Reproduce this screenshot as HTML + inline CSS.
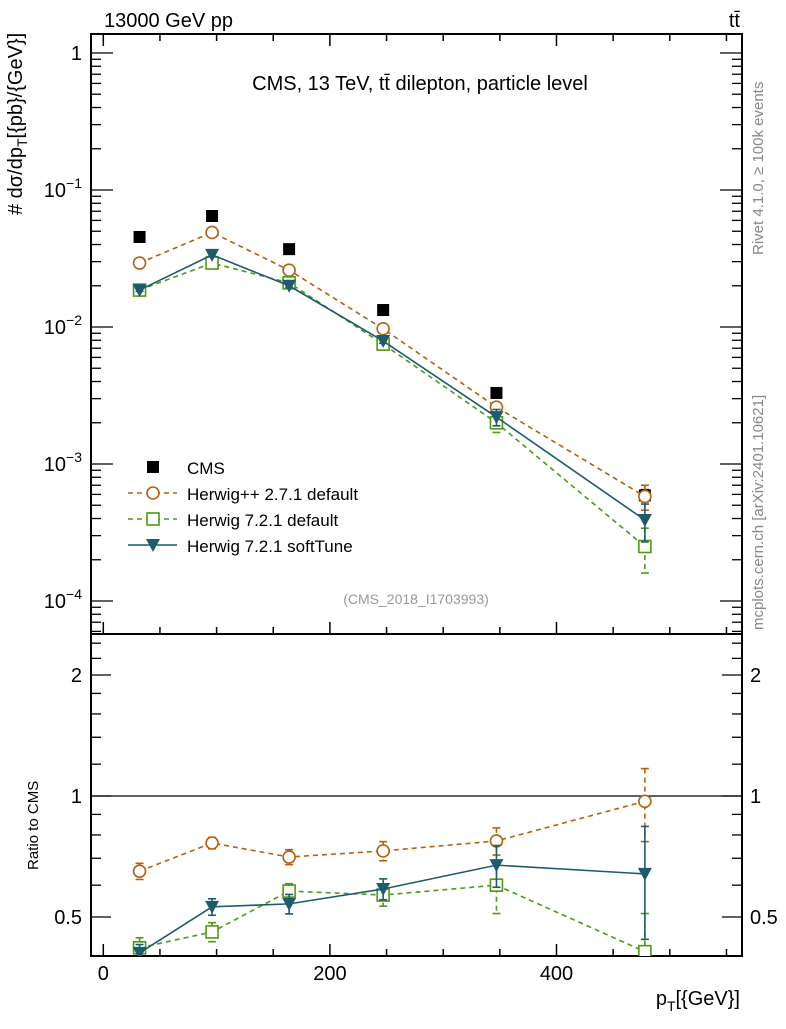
<!DOCTYPE html>
<html><head><meta charset="utf-8"><style>
body{margin:0;background:#fff}
svg text{font-family:"Liberation Sans",sans-serif}
</style></head><body>
<svg id="chart" width="786" height="1024" viewBox="0 0 786 1024" xmlns="http://www.w3.org/2000/svg">
<defs><clipPath id="rclip"><rect x="91" y="634" width="651" height="322"/></clipPath><clipPath id="mclip"><rect x="91" y="34" width="651" height="600"/></clipPath></defs>
<g id="axes"></g>
<g id="marks"></g>
<text x="104" y="27" font-size="20">13000 GeV pp</text>
<text x="740" y="27" font-size="20" text-anchor="end">tt̄</text>
<text x="420" y="90" font-size="20" text-anchor="middle">CMS, 13 TeV, tt̄ dilepton, particle level</text>
<text x="416" y="604" font-size="14" fill="#999" text-anchor="middle">(CMS_2018_I1703993)</text>
<text transform="translate(763,255) rotate(-90)" font-size="15" fill="#888">Rivet 4.1.0, ≥ 100k events</text>
<text transform="translate(763,630) rotate(-90)" font-size="15" fill="#888">mcplots.cern.ch [arXiv:2401.10621]</text>
<text transform="translate(22,215) rotate(-90)" font-size="20"># dσ/dp<tspan font-size="14" dy="5">T</tspan><tspan dy="-5">[{pb}/{GeV}]</tspan></text>
<text transform="translate(38,870) rotate(-90)" font-size="15">Ratio to CMS</text>
<text x="740" y="1005" font-size="20" text-anchor="end">p<tspan font-size="14" dy="6">T</tspan><tspan dy="-6">[{GeV}]</tspan></text>
<g id="legend"></g>
</svg>
<script>
const xCenters=[32,96,164,247,347,478];
const cmsVals=[0.0454,0.0646,0.037,0.0133,0.0033,0.00059];
const cmsErr=[0.001,0.001,0.001,0.0004,0.0002,0.00006];
const hppVals=[0.0293,0.049,0.026,0.0097,0.0026,0.00058];
const hppErr=[0.0006,0.001,0.0007,0.0003,0.00015,0.00012];
const h7defVals=[0.0186,0.0293,0.021,0.0075,0.002,0.00025];
const h7defErr=[0.0005,0.0008,0.0006,0.0003,0.0003,0.00009];
const h7softVals=[0.0186,0.0336,0.020,0.0079,0.0022,0.00039];
const h7softErr=[0.0004,0.0008,0.0006,0.0003,0.0003,0.00012];
const hppRatio=[0.65,0.764,0.705,0.73,0.773,0.97];
const hppRatioErr=[0.03,0.025,0.03,0.04,0.06,0.2];
const h7defRatio=[0.419,0.459,0.58,0.567,0.6,0.41];
const h7defRatioErr=[0.025,0.025,0.025,0.035,0.09,0.1];
const h7softRatio=[0.407,0.53,0.539,0.587,0.673,0.64];
const h7softRatioErr=[0.02,0.025,0.03,0.035,0.08,0.2];
const xTicks=[0,200,400];
const yMainTicks=[0,-1,-2,-3,-4];
const yRatioTicks=[0.5,1,2];

const NS="http://www.w3.org/2000/svg";
const L=91,R=742,T=34,MB=634,RB=956;
const X=v=>103.3+v*1.133;
const Y=v=>53-Math.log10(v)*137;
const YR=v=>796-Math.log2(v)*121;
const ax=document.getElementById('axes'),mk=document.getElementById('marks'),lg=document.getElementById('legend');
function el(p,t,a){const e=document.createElementNS(NS,t);for(const k in a)e.setAttribute(k,a[k]);p.appendChild(e);return e;}

let f=el(ax,'rect',{x:L,y:T,width:R-L,height:RB-T,fill:'none',stroke:'#000','stroke-width':2});


let sep=el(ax,'line',{x1:L,x2:R,y1:MB,y2:MB,stroke:'#000','stroke-width':2});


let one=el(ax,'line',{x1:L,x2:R,y1:YR(1),y2:YR(1),stroke:'#000','stroke-width':1.3});


for(let v=0;v<=550;v+=50){const big=v%200===0;const len=big?12:7;
 for(const yb of [MB,RB]){el(ax,'line',{x1:X(v),x2:X(v),y1:yb,y2:yb-len,stroke:'#000','stroke-width':1.5});}
 el(ax,'line',{x1:X(v),x2:X(v),y1:T,y2:T+len,stroke:'#000','stroke-width':1.5});}
xTicks.forEach(v=>{const t=el(ax,'text',{x:X(v),y:980,'font-size':20,'text-anchor':'middle'});t.textContent=v;
 
 });
for(let d=-5;d<=0;d++){for(let m=1;m<10;m++){const y=Y(m*Math.pow(10,d));if(y<T||y>MB)continue;const len=m===1?22:10;
 el(ax,'line',{x1:L,x2:L+len,y1:y,y2:y,stroke:'#000','stroke-width':1.3});
 el(ax,'line',{x1:R,x2:R-len,y1:y,y2:y,stroke:'#000','stroke-width':1.3});}}
yMainTicks.forEach(d=>{const t=el(ax,'text',{x:82,y:Y(Math.pow(10,d))+7,'font-size':20,'text-anchor':'end'});
 
 
 if(d===0)t.textContent='1';else{t.textContent='10';const s=el(t,'tspan',{'font-size':14,dy:-9});s.textContent='−'+(-d);}});
[0.4,0.5,0.6,0.7,0.8,0.9,1,1.2,1.4,1.6,1.8,2,2.2,2.4].forEach(v=>{const y=YR(v);const big=[0.5,1,2].includes(v);const len=big?20:10;
 el(ax,'line',{x1:L,x2:L+len,y1:y,y2:y,stroke:'#000','stroke-width':1.3});
 el(ax,'line',{x1:R,x2:R-len,y1:y,y2:y,stroke:'#000','stroke-width':1.3});});
yRatioTicks.forEach(v=>{for(const [x,a] of [[82,'end'],[750,'start']]){const t=el(ax,'text',{x:x,y:YR(v)+7,'font-size':20,'text-anchor':a});t.textContent=v;
 
 }});

function marker(p,type,x,y,c){
 if(type==='sq'){return el(p,'rect',{x:x-6,y:y-6,width:12,height:12,fill:c});}
 if(type==='circ'){return el(p,'circle',{cx:x,cy:y,r:6,fill:'#fff',stroke:c,'stroke-width':1.6});}
 if(type==='osq'){return el(p,'rect',{x:x-6,y:y-6,width:12,height:12,fill:'#fff',stroke:c,'stroke-width':1.6});}
 return el(p,'path',{d:`M${x-7},${y-6}L${x+7},${y-6}L${x},${y+7}Z`,fill:c});}
function series(name,vals,yf,c,dash,type,err,clip){
 const g=el(mk,'g',{'clip-path':clip});
 
 
 if(dash!==null){el(g,'polyline',{points:vals.map((v,i)=>X(xCenters[i])+','+yf(v)).join(' '),fill:'none',stroke:c,'stroke-width':1.6,'stroke-dasharray':dash});}
 vals.forEach((v,i)=>{const x=X(xCenters[i]);
  if(err){const y1=yf(v+err[i]),y2=yf(Math.max(v-err[i],v*0.05));
   el(g,'line',{x1:x,x2:x,y1:y1,y2:y2,stroke:c,'stroke-width':1.6,'stroke-dasharray':dash||''});
   el(g,'line',{x1:x-4,x2:x+4,y1:y1,y2:y1,stroke:c,'stroke-width':1.6});
   el(g,'line',{x1:x-4,x2:x+4,y1:y2,y2:y2,stroke:c,'stroke-width':1.6});}
  const m=marker(g,type,x,yf(v),c);
  
  });}
const cO='#b5600e',cG='#4c9a12',cT='#1d5c6c';
series('cms-data',cmsVals,Y,'#000',null,'sq',cmsErr,'url(#mclip)');
series('herwigpp-main',hppVals,Y,cO,'5,4','circ',hppErr,'url(#mclip)');
series('herwig7-default-main',h7defVals,Y,cG,'5,4','osq',h7defErr,'url(#mclip)');
series('herwig7-softtune-main',h7softVals,Y,cT,'','tri',h7softErr,'url(#mclip)');
series('herwigpp-ratio',hppRatio,YR,cO,'5,4','circ',hppRatioErr,'url(#rclip)');
series('herwig7-default-ratio',h7defRatio,YR,cG,'5,4','osq',h7defRatioErr,'url(#rclip)');
series('herwig7-softtune-ratio',h7softRatio,YR,cT,'','tri',h7softRatioErr,'url(#rclip)');
const legItems=[['CMS','#000',null,'sq'],['Herwig++ 2.7.1 default',cO,'5,4','circ'],['Herwig 7.2.1 default',cG,'5,4','osq'],['Herwig 7.2.1 softTune',cT,'','tri']];
legItems.forEach((it,i)=>{const y=467+i*26;const g=el(lg,'g',{});
 
 
 if(it[2]!==null)el(g,'line',{x1:128,x2:177,y1:y,y2:y,stroke:it[1],'stroke-width':1.6,'stroke-dasharray':it[2]});
 marker(g,it[3],153,y,it[1]);
 const t=el(g,'text',{x:187,y:y+7,'font-size':17});t.textContent=it[0];});
</script>
</body></html>
